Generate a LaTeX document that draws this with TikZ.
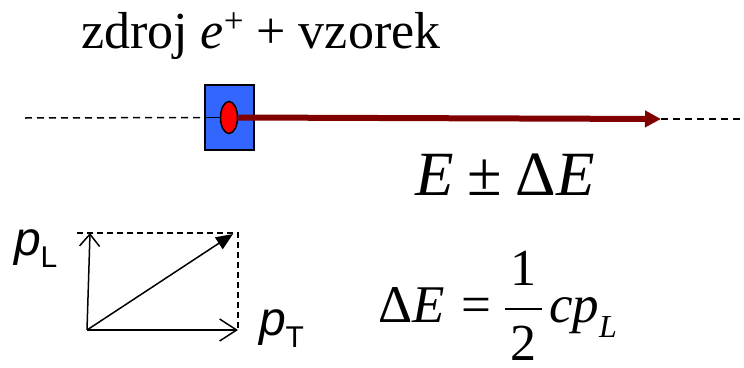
\documentclass[tikz,border=0pt]{standalone}
\usepackage{fontspec}
\setmainfont{Liberation Serif}
\newfontfamily\arialf{Liberation Sans}
\usetikzlibrary{arrows.meta,shapes.geometric}
\definecolor{boxblue}{RGB}{51,102,255}
\definecolor{beamred}{RGB}{128,0,0}
\tikzset{
  txt/.style={inner sep=0pt, outer sep=0pt, anchor=base west},
  guide/.style={dashed, dash pattern=on 7pt off 5pt, line width=1.5pt},
  thinguide/.style={dash pattern=on 6pt off 4pt, line width=1.3pt},
  vec/.style={line width=1.5pt},
}
\begin{document}
\begin{tikzpicture}[x=1pt,y=-1pt]
\useasboundingbox (0,0) rectangle (744,367);
% title
\node[txt] (title) at (81,48) {\fontsize{52}{52}\selectfont zdroj \textit{e}\raisebox{16pt}{\fontsize{35}{35}\selectfont +} + vzorek};
% beam line
\coordinate (L) at (25,118);
\coordinate (tip) at (661,119);
\coordinate (R) at (744,119);
\node[draw, line width=2pt, fill=boxblue, minimum width=49pt, minimum height=65pt, inner sep=0pt] (box) at (229.5,117.5) {};
\node[ellipse, draw, line width=1.5pt, fill=red, minimum width=17pt, minimum height=32pt, inner sep=0pt] (src) at (229,117.5) {};
\draw[guide] (L) -- (box.west);
\draw[line width=1.5pt] (box.west) -- (src.west);
\draw[guide] (tip) -- (R);
\draw[line width=6pt, beamred, -{Triangle[length=16pt,width=16pt]}] (src.east) -- (tip);
% energy
\node[txt] (energy) at (415,195) {\fontsize{63}{63}\selectfont\textit{E}\hspace{0.22em}±\hspace{0.22em}Δ\textit{E}};
% vector diagram
\coordinate (O) at (87,330);
\coordinate (A) at (90,233);
\coordinate (B) at (238,330);
\coordinate (C) at (233,234);
\coordinate (TL) at (77,233);
\coordinate (TR) at (238,233);
\draw[thinguide] (TL) -- (TR) -- (B);
\draw[vec, -{Straight Barb[length=12pt,width=20pt]}] (O) -- (A);
\draw[vec, -{Straight Barb[length=17pt,width=22pt]}] (O) -- (B);
\draw[vec, -{Triangle[length=17pt,width=14pt]}] (O) -- (C);
\node[txt] (pL) at (14,255) {\arialf\fontsize{48}{48}\selectfont\itshape p\upshape\raisebox{-12pt}{\fontsize{30}{30}\selectfont L}};
\node[txt] (pT) at (259,335) {\arialf\fontsize{48}{48}\selectfont\itshape p\upshape\raisebox{-12pt}{\fontsize{30}{30}\selectfont T}};
% formula
\node[txt] (dE) at (378,322) {\fontsize{53}{53}\selectfont Δ\textit{E}};
\node[txt] (eq) at (461,322) {\fontsize{53}{53}\selectfont =};
\coordinate (fb1) at (505,309);
\coordinate (fb2) at (542,309);
\draw[line width=2pt] (fb1) -- (fb2);
\node[txt, anchor=base] (num) at (523.5,285) {\fontsize{52}{52}\selectfont 1};
\node[txt, anchor=base] (den) at (523.5,360) {\fontsize{52}{52}\selectfont 2};
\node[txt] (cp) at (549,322) {\fontsize{53}{53}\selectfont\textit{cp}\raisebox{-15pt}{\fontsize{32}{32}\selectfont\textit{L}}};
\end{tikzpicture}
\end{document}
